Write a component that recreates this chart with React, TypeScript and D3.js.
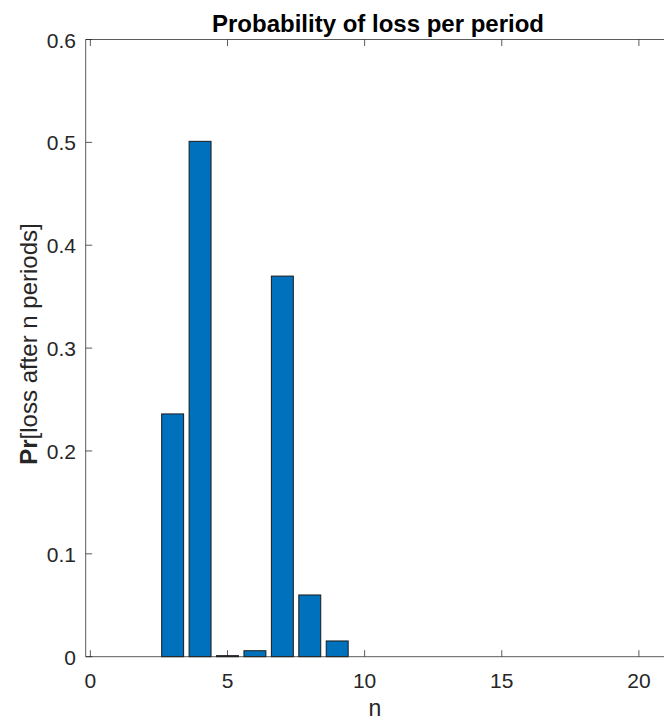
import React from "react";
import * as d3 from "d3";

const periods = [3, 4, 5, 6, 7, 8, 9];
const probabilities = [0.236, 0.501, 0.001, 0.0058, 0.37, 0.06, 0.0153];
const xTicks = [0, 5, 10, 15, 20];
const yTicks = [0, 0.1, 0.2, 0.3, 0.4, 0.5, 0.6];
const titleText = "Probability of loss per period";
const xLabelText = "n";

const W = 664;
const H = 720;
const left = 85.7;
const right = 674;
const top = 39.5;
const bottom = 656.7;

export default function App() {
  const x = d3.scaleLinear().domain([-0.17, 21.28]).range([left, right]);
  const y = d3.scaleLinear().domain([0, 0.6]).range([bottom, top]);
  const bw = (x(1) - x(0)) * 0.8;
  const axisColor = "#262626";
  const font = "'Liberation Sans', Arial, Helvetica, sans-serif";
  return (
    <div style={{ position: "absolute", left: 0, top: 0 }}>
      <svg width={W} height={H} style={{ display: "block" }} fontFamily={font}>
        <rect x={0} y={0} width={W} height={H} fill="#fff" />
        {periods.map((p, i) => (
          <rect
            key={p}
            x={x(p) - bw / 2}
            y={y(probabilities[i])}
            width={bw}
            height={y(0) - y(probabilities[i])}
            fill="#0072BD"
            stroke="#1a1a1a"
            strokeWidth={1}
          />
        ))}
        <line x1={left} x2={left} y1={top} y2={bottom} stroke={axisColor} strokeWidth={1} opacity={0.75} />
        <line x1={left} x2={right} y1={bottom} y2={bottom} stroke={axisColor} strokeWidth={1} opacity={0.75} />
        <line x1={left} x2={right} y1={top} y2={top} stroke={axisColor} strokeWidth={1} opacity={0.75} />
        {xTicks.map((t) => (
          <g key={"x" + t}>
            <line x1={x(t)} x2={x(t)} y1={bottom} y2={bottom - 6.5} stroke={axisColor} opacity={0.75} />
            <line x1={x(t)} x2={x(t)} y1={top} y2={top + 6.5} stroke={axisColor} opacity={0.75} />
            <text x={x(t)} y={688} textAnchor="middle" fontSize={21} fill={axisColor}>
              {t}
            </text>
          </g>
        ))}
        {yTicks.map((t) => (
          <g key={"y" + t}>
            <line x1={left} x2={left + 6.5} y1={y(t)} y2={y(t)} stroke={axisColor} opacity={0.75} />
            <text x={76} y={y(t) + 8} textAnchor="end" fontSize={21} fill={axisColor}>
              {t === 0 ? "0" : t.toFixed(1)}
            </text>
          </g>
        ))}
        <text x={378} y={31.5} textAnchor="middle" fontSize={24} fontWeight="bold" fill="#000">
          {titleText}
        </text>
        <text x={375} y={716} textAnchor="middle" fontSize={23} fill={axisColor}>
          {xLabelText}
        </text>
        <text
          transform={`translate(37, 344) rotate(-90)`}
          textAnchor="middle"
          fontSize={24}
          fill={axisColor}
        >
          <tspan fontWeight="bold">Pr</tspan>
          <tspan>[loss after n periods]</tspan>
        </text>
      </svg>
    </div>
  );
}
